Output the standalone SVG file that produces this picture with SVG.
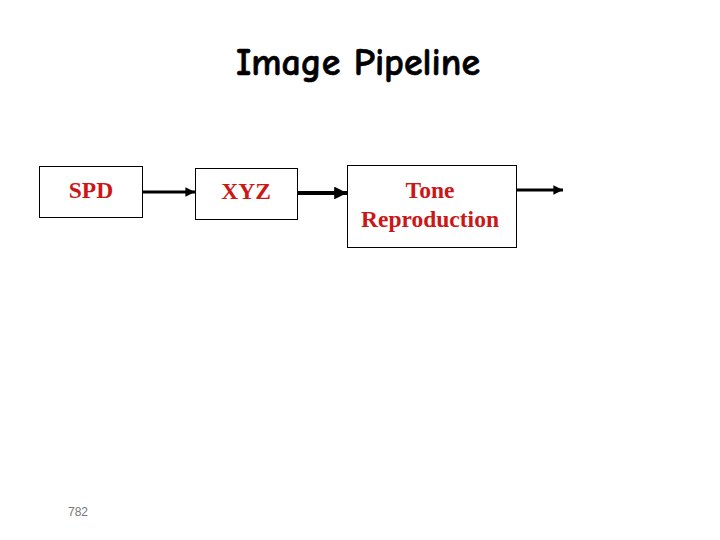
<svg xmlns="http://www.w3.org/2000/svg" width="720" height="540" viewBox="0 0 720 540">
<defs>
<style>
.box{fill:#fff;stroke:#000;stroke-width:1}
.lbl{font-family:"Liberation Serif",serif;font-weight:bold;font-size:23.5px;fill:#cc1717;text-anchor:middle}
.conn{stroke:#000;fill:none}
</style>
<marker id="ah" viewBox="0 0 10 10" refX="10" refY="5" markerWidth="3.2" markerHeight="3.2" orient="auto" markerUnits="strokeWidth">
<path d="M0,0 L10,5 L0,10 z" fill="#000"/>
</marker>
</defs>
<rect width="720" height="540" fill="#fff"/>
<text x="358" y="75" font-family="'Comic Neue','DejaVu Sans',sans-serif" font-weight="900" font-size="38" text-anchor="middle" fill="#000" stroke="#000" stroke-width="0.6">Image Pipeline</text>
<g id="connectors">
<line class="conn" x1="143" y1="192" x2="195" y2="192" stroke-width="3" marker-end="url(#ah)"/>
<line class="conn" x1="297" y1="193" x2="347" y2="193" stroke-width="4" marker-end="url(#ah)"/>
<line class="conn" x1="516" y1="190" x2="563" y2="190" stroke-width="3" marker-end="url(#ah)"/>
</g>
<g id="spd">
<rect class="box" x="39.5" y="166.5" width="103" height="51"/>
<text class="lbl" x="91" y="198">SPD</text>
</g>
<g id="xyz">
<rect class="box" x="195.5" y="168.5" width="102" height="51"/>
<text class="lbl" x="246" y="199">XYZ</text>
</g>
<g id="tone">
<rect class="box" x="347.5" y="165.5" width="169" height="82"/>
<text class="lbl" x="430" y="198">Tone</text>
<text class="lbl" x="430" y="227">Reproduction</text>
</g>
<text x="68" y="516" font-family="'Liberation Sans',sans-serif" font-size="12" fill="#777">782</text>
</svg>
